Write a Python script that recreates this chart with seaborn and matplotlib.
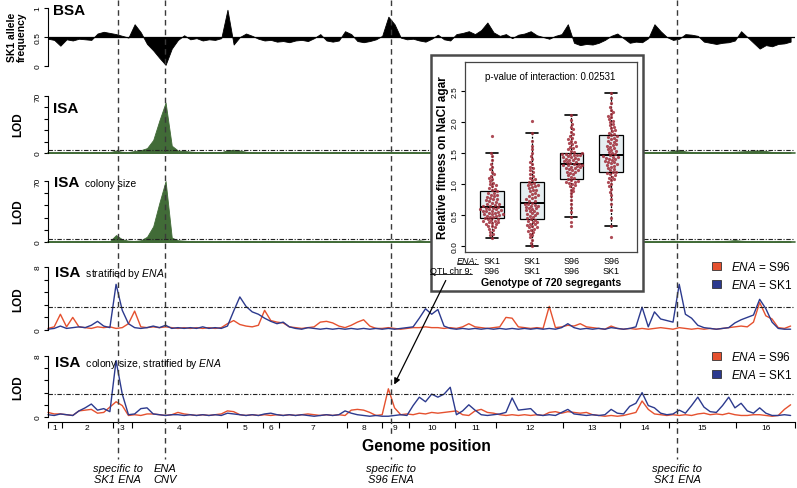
import numpy as np
import pandas as pd
import matplotlib
matplotlib.use("Agg")
import matplotlib.pyplot as plt
import seaborn as sns
from matplotlib.patches import Rectangle, FancyArrowPatch, Patch
from matplotlib.lines import Line2D
from matplotlib.transforms import blended_transform_factory as blend

# ---------------- data ----------------
chrom_names = [str(i) for i in range(1, 17)]
chrom_kb = [230, 813, 317, 1532, 577, 270, 1091, 563, 440, 746, 667, 1078, 924, 784, 1091, 948]
marker_mb = [1.13, 1.89, 5.54, 10.17]
marker_text = ["specific to\nSK1 ENA", "ENA\nCNV", "specific to\nS96 ENA", "specific to\nSK1 ENA"]

bsa_freq = [0.47,0.45,0.35,0.46,0.44,0.47,0.46,0.45,0.56,0.59,
            0.57,0.55,0.52,0.49,0.72,0.58,0.38,0.27,0.14,0.02,
            0.30,0.45,0.53,0.46,0.48,0.44,0.46,0.45,0.48,0.97,
            0.37,0.50,0.56,0.52,0.47,0.44,0.45,0.42,0.43,0.41,
            0.44,0.45,0.43,0.48,0.55,0.44,0.42,0.44,0.60,0.55,
            0.43,0.41,0.43,0.46,0.52,0.85,0.72,0.49,0.46,0.47,
            0.44,0.42,0.47,0.54,0.46,0.44,0.55,0.57,0.60,0.55,
            0.62,0.75,0.58,0.52,0.55,0.48,0.54,0.56,0.60,0.53,
            0.50,0.47,0.52,0.55,0.72,0.40,0.36,0.38,0.37,0.40,
            0.45,0.52,0.56,0.48,0.40,0.42,0.41,0.48,0.72,0.60,
            0.50,0.45,0.47,0.55,0.54,0.52,0.42,0.40,0.38,0.40,
            0.41,0.44,0.60,0.50,0.40,0.30,0.36,0.34,0.38,0.39,
            0.42]

isa_lod = [1.0,0.8,1.2,0.9,1.0,1.1,0.8,1.0,1.2,0.9,
           1.0,3.0,1.5,1.2,2.5,3.5,6.0,16.0,40.0,62.0,
           9.0,3.0,2.5,1.8,1.2,1.0,1.0,1.2,1.0,3.5,
           4.0,3.0,1.5,1.0,0.8,1.0,1.0,0.9,1.1,0.8,
           1.0,1.2,0.9,1.0,1.1,0.8,1.0,1.2,1.0,0.9,
           1.1,1.0,0.8,1.0,1.2,1.5,1.0,0.9,1.0,1.1,
           0.8,1.0,1.2,0.9,1.0,1.1,0.8,1.0,1.2,1.0,
           0.9,1.1,1.0,0.8,1.0,1.2,0.9,1.0,1.1,0.8,
           1.0,1.2,0.9,1.0,1.1,0.8,1.0,1.2,1.0,0.9,
           1.1,1.0,0.8,1.0,1.2,0.9,1.0,1.1,1.0,1.2,
           1.5,2.5,4.0,2.0,1.2,1.0,0.9,1.0,1.1,1.0,
           1.2,1.5,2.0,2.5,3.0,3.2,2.5,1.2,1.0,0.9,
           1.0]

isa_cs_lod = [0.9,1.0,0.8,1.1,1.0,0.9,1.2,1.0,0.8,1.0,
              1.1,8.0,3.0,1.5,1.2,2.0,6.0,18.0,45.0,70.0,
              5.0,2.0,1.5,1.0,0.9,1.1,1.0,0.8,1.0,1.2,
              1.0,0.9,1.1,1.0,0.8,1.0,1.2,0.9,1.0,1.1,
              0.8,1.0,1.2,1.0,0.9,1.1,1.0,0.8,1.0,1.2,
              0.9,1.0,1.1,0.8,1.0,1.2,1.0,0.9,1.1,1.0,
              2.0,1.2,0.9,1.0,1.1,0.8,1.0,1.2,1.0,0.9,
              1.1,1.0,0.8,1.0,1.2,0.9,1.0,1.1,0.8,1.0,
              1.2,1.0,0.9,1.1,1.0,0.8,1.0,1.2,0.9,1.0,
              1.1,0.8,1.0,1.2,1.0,0.9,1.1,1.0,0.8,1.0,
              1.2,1.5,1.2,1.0,0.9,1.1,1.0,0.8,1.0,1.2,
              1.5,2.2,1.5,1.0,0.9,1.1,1.0,0.8,1.0,1.2,
              1.0]

strat_s96 = [0.2,0.4,2.0,0.4,1.6,0.4,0.3,0.2,0.4,0.3,
             0.4,0.2,0.3,0.8,2.4,0.4,0.3,0.4,0.3,0.4,
             0.3,0.2,0.3,0.2,0.3,0.2,0.3,0.2,0.3,0.8,
             1.2,0.7,0.5,0.4,0.6,2.5,1.2,1.0,0.9,0.4,
             0.3,0.2,0.3,0.4,1.0,1.1,0.9,0.5,0.3,0.6,
             1.0,1.3,0.5,0.2,0.2,0.3,0.2,0.1,0.2,0.3,
             0.3,0.4,0.3,0.3,0.2,0.3,0.2,0.4,0.8,0.4,
             0.3,0.2,0.3,0.4,1.6,1.5,0.4,0.3,0.2,0.3,
             0.2,3.0,0.3,0.4,0.6,0.5,0.8,0.4,0.3,0.2,
             0.1,0.5,0.2,0.1,0.2,0.1,0.2,0.1,0.2,0.3,
             0.2,0.1,0.3,0.2,0.1,0.2,0.1,0.2,0.1,0.2,
             0.3,0.4,0.5,0.4,1.0,3.5,1.8,1.4,0.3,0.2,
             0.5]

strat_sk1 = [0.1,0.2,0.5,0.2,0.3,0.4,0.3,0.6,1.1,0.5,
             0.3,5.8,2.5,0.8,0.3,0.2,0.3,0.5,0.3,0.6,
             0.2,0.3,0.2,0.3,0.2,0.4,0.2,0.3,0.2,0.5,
             2.4,4.2,3.0,2.3,2.0,1.5,1.1,0.8,1.0,0.4,
             0.2,0.1,0.3,0.2,0.1,0.2,0.1,0.2,0.1,0.2,
             0.1,0.2,0.1,0.2,0.1,0.2,0.1,0.2,0.3,0.4,
             1.5,2.7,2.0,2.6,0.5,0.2,0.1,0.2,0.1,0.2,
             0.1,0.2,0.1,0.2,0.1,0.2,0.1,0.2,0.1,0.2,
             0.1,0.2,0.1,0.3,0.8,0.3,0.1,0.2,0.1,0.2,
             0.1,0.3,0.2,0.1,0.2,0.4,2.9,0.4,2.3,1.4,
             1.2,1.0,5.8,2.0,1.5,0.6,0.3,0.2,0.1,0.2,
             0.3,0.9,1.3,1.6,1.9,3.9,2.7,1.0,0.2,0.1,
             0.1]

cs_strat_s96 = [0.6,0.4,0.4,0.3,0.2,0.8,0.9,1.0,0.5,0.6,
                1.3,2.0,1.5,0.2,0.3,0.2,0.4,0.4,0.3,0.2,
                0.3,0.6,0.4,0.3,0.2,0.3,0.2,0.3,0.4,0.8,
                0.7,0.3,0.2,0.3,0.2,0.3,0.2,0.3,0.2,0.3,
                0.2,0.3,0.4,0.3,0.2,0.3,0.2,0.3,0.2,0.9,
                1.0,0.9,0.6,0.2,0.3,3.7,1.2,0.3,0.4,0.3,
                0.5,0.4,0.6,0.5,0.6,0.7,0.8,0.3,0.2,0.8,
                1.0,0.6,0.5,0.3,0.2,0.3,0.2,0.3,0.2,0.3,
                0.2,0.6,0.7,0.5,0.7,0.6,0.5,0.6,0.3,0.2,
                0.1,0.2,0.1,0.2,0.4,0.6,2.1,1.0,0.4,0.3,
                0.2,0.3,0.2,0.3,0.2,0.4,0.5,0.3,0.4,0.3,
                0.5,0.3,0.2,0.2,0.3,0.3,0.2,0.1,0.2,1.0,
                1.6]

cs_strat_sk1 = [0.3,0.2,0.4,0.3,0.2,0.8,1.2,1.7,0.9,1.1,
                0.7,7.4,3.0,0.3,0.4,1.1,1.2,0.4,0.3,0.2,
                0.3,0.3,0.2,0.3,0.2,0.3,0.2,0.3,0.2,0.5,
                0.4,0.3,0.2,0.3,0.2,0.4,0.5,0.3,0.2,0.3,
                0.2,0.3,0.2,0.1,0.2,0.3,0.2,0.3,0.8,0.5,
                0.3,0.2,0.1,0.2,0.1,0.1,0.2,0.3,0.2,1.5,
                2.6,2.0,3.0,2.6,3.0,3.9,0.3,0.8,1.6,0.9,
                0.3,0.2,0.3,0.4,0.6,2.5,0.9,1.0,1.1,0.3,
                0.2,0.3,0.2,0.6,1.0,0.4,0.3,0.2,0.3,0.2,
                0.3,1.0,0.5,0.4,1.4,1.8,3.2,1.5,1.2,0.5,
                0.3,0.4,0.9,0.5,1.5,2.6,1.3,0.7,0.6,1.5,
                2.6,1.2,1.8,0.8,0.5,1.2,0.5,0.2,0.2,0.3,
                0.2]

ena_geno = ["SK1", "SK1", "S96", "S96"]
qtl_geno = ["S96", "SK1", "S96", "SK1"]
fit_g1 = [0.13,0.17,0.2,0.23,0.26,0.28,0.3,0.32,0.33,0.35,0.36,0.37,0.38,0.39,0.4,0.41,0.42,0.43,0.44,0.45,
          0.46,0.47,0.48,0.49,0.5,0.51,0.52,0.52,0.53,0.54,0.55,0.56,0.57,0.57,0.58,0.59,0.6,0.6,0.61,0.62,
          0.63,0.64,0.65,0.66,0.67,0.68,0.7,0.71,0.72,0.74,0.75,0.76,0.78,0.79,0.8,0.82,0.83,0.85,0.86,0.88,
          0.9,0.92,0.94,0.96,0.98,1.0,1.02,1.05,1.08,1.1,1.13,1.16,1.2,1.24,1.28,1.33,1.38,1.45,1.5,1.77]
fit_g2 = [0.0,0.05,0.1,0.14,0.17,0.2,0.22,0.24,0.26,0.28,0.3,0.31,0.32,0.34,0.35,0.36,0.38,0.39,0.4,0.42,
          0.43,0.45,0.46,0.48,0.5,0.51,0.53,0.54,0.56,0.57,0.58,0.6,0.61,0.62,0.63,0.64,0.65,0.66,0.67,0.68,
          0.7,0.72,0.73,0.75,0.77,0.79,0.8,0.82,0.84,0.86,0.88,0.9,0.91,0.93,0.95,0.96,0.98,0.99,1.0,1.02,
          1.04,1.06,1.08,1.1,1.13,1.16,1.19,1.22,1.25,1.28,1.32,1.36,1.4,1.45,1.5,1.56,1.62,1.7,1.83,2.02]
fit_g3 = [0.32,0.38,0.47,0.55,0.62,0.68,0.74,0.8,0.85,0.88,0.91,0.94,0.96,0.98,1.0,1.02,1.03,1.04,1.05,1.07,
          1.08,1.1,1.12,1.14,1.16,1.18,1.19,1.2,1.22,1.23,1.24,1.25,1.26,1.27,1.28,1.29,1.3,1.3,1.31,1.32,
          1.33,1.34,1.35,1.36,1.37,1.38,1.39,1.4,1.41,1.42,1.43,1.44,1.45,1.46,1.46,1.47,1.48,1.49,1.49,1.5,
          1.52,1.54,1.56,1.58,1.6,1.62,1.64,1.66,1.68,1.7,1.72,1.75,1.78,1.8,1.84,1.88,1.92,1.97,2.04,2.12]
fit_g4 = [0.15,0.32,0.45,0.58,0.68,0.76,0.82,0.87,0.92,0.96,1.0,1.03,1.06,1.08,1.1,1.12,1.14,1.16,1.17,1.19,
          1.2,1.22,1.24,1.26,1.28,1.29,1.31,1.32,1.34,1.35,1.36,1.37,1.39,1.4,1.41,1.42,1.43,1.44,1.45,1.46,
          1.48,1.5,1.51,1.53,1.55,1.56,1.58,1.6,1.61,1.63,1.64,1.66,1.68,1.7,1.71,1.73,1.75,1.76,1.78,1.79,
          1.81,1.83,1.85,1.87,1.9,1.92,1.95,1.97,2.0,2.02,2.05,2.08,2.1,2.13,2.16,2.2,2.25,2.3,2.38,2.47]

# ---------------- style ----------------
sns.set_style("white")
plt.rcParams["font.family"] = ["Liberation Sans", "DejaVu Sans"]
plt.rcParams["mathtext.fontset"] = "custom"
plt.rcParams["mathtext.rm"] = "Liberation Sans"
plt.rcParams["mathtext.it"] = "Liberation Sans:italic"
plt.rcParams["mathtext.bf"] = "Liberation Sans:bold"
for k in ["text.color", "axes.labelcolor", "xtick.color", "ytick.color", "axes.edgecolor"]:
    plt.rcParams[k] = "black"

RED = "#e5512f"
BLUE = "#2c3a8e"
GREEN = "#416b37"

W, H = 797, 489
fig = plt.figure(figsize=(W / 100, H / 100), dpi=100)


def fx(p):
    return p / W


def fy(p):
    return 1 - p / H


pos = np.arange(len(bsa_freq)) * 0.1
genome_mb = sum(chrom_kb) / 1000.0
XL, XR = 48, 795


def track(top, bottom):
    ax = fig.add_axes([fx(XL), fy(bottom), fx(XR) - fx(XL), (bottom - top) / H])
    ax.set_xlim(0, genome_mb)
    for s in ["top", "right", "bottom"]:
        ax.spines[s].set_visible(False)
    ax.spines["left"].set_linewidth(0.8)
    ax.tick_params(axis="x", bottom=False, labelbottom=False)
    ax.tick_params(axis="y", left=True, length=3, width=0.8, pad=1.5,
                   labelsize=6, labelrotation=90)
    for lab in ax.get_yticklabels():
        lab.set_va("center")
    ax.patch.set_alpha(0)
    return ax


def dashdot(ax, y):
    ax.axhline(y, color="#222222", lw=0.8, ls=(0, (4, 1.5, 1, 1.5)), zorder=3)


# BSA
ax1 = track(9, 67)
ax1.set_ylim(0, 1)
ax1.fill_between(pos, 0.5, bsa_freq, color="black", lw=0.6)
ax1.axhline(0.5, color="black", lw=0.9)
ax1.set_yticks([0, 0.5, 1])
ax1.set_yticklabels(["0", "0.5", "1"], va="center")

# ISA
ax2 = track(97, 154)
ax2.set_ylim(0, 70)
ax2.fill_between(pos, 0, isa_lod, color=GREEN, lw=0.6)
ax2.axhline(0, color=GREEN, lw=1.2, clip_on=False)
dashdot(ax2, 3.5)
ax2.set_yticks(np.arange(0, 71, 14))
ax2.set_yticklabels(["0", "", "", "", "", "70"], va="center")

# ISA colony size
ax3 = track(182, 243)
ax3.set_ylim(0, 70)
ax3.fill_between(pos, 0, isa_cs_lod, color=GREEN, lw=0.6)
ax3.axhline(0, color=GREEN, lw=1.2, clip_on=False)
dashdot(ax3, 3.5)
ax3.set_yticks(np.arange(0, 71, 14))
ax3.set_yticklabels(["0", "", "", "", "", "70"], va="center")

# stratified panels
ax4 = track(268, 331)
ax5 = track(357, 418)
for ax, red, blue, thr in [(ax4, strat_s96, strat_sk1, 2.9), (ax5, cs_strat_s96, cs_strat_sk1, 3.0)]:
    ax.set_ylim(0, 8)
    sns.lineplot(x=pos, y=red, color=RED, lw=1.0, ax=ax, legend=False, clip_on=False)
    sns.lineplot(x=pos, y=blue, color=BLUE, lw=1.0, ax=ax, legend=False, clip_on=False)
    dashdot(ax, thr)
    ax.set_yticks([0, 1.6, 3.2, 4.8, 6.4, 8])
    ax.set_yticklabels(["0", "", "", "", "", "8"], va="center")
    ax.set_xlim(0, genome_mb)
    ax.set_xlabel("")
    ax.set_ylabel("")
    ax.legend(handles=[Patch(facecolor=RED, edgecolor="#333333", lw=0.6),
                       Patch(facecolor=BLUE, edgecolor="#333333", lw=0.6)],
              labels=[r"$\mathit{ENA}$ = S96", r"$\mathit{ENA}$ = SK1"],
              loc="upper left",
              bbox_to_anchor=(fx(712), fy(261 if ax is ax4 else 351)),
              bbox_transform=fig.transFigure, frameon=False, fontsize=8.5,
              handlelength=0.75, handleheight=0.75, handletextpad=0.9,
              labelspacing=0.42, borderpad=0, borderaxespad=0)

# chromosome axis
bounds = np.concatenate([[0], np.cumsum(chrom_kb)]) / 1000.0
centers = (bounds[:-1] + bounds[1:]) / 2
ax5.spines["bottom"].set_visible(True)
ax5.spines["bottom"].set_linewidth(0.8)
ax5.spines["bottom"].set_position(("outward", 3.5))
ax5.set_xticks(bounds)
ax5.set_xticklabels([""] * len(bounds))
ax5.set_xticks(centers, minor=True)
ax5.set_xticklabels(chrom_names, minor=True)
ax5.tick_params(axis="x", which="major", bottom=True, length=4, width=0.8, direction="out")
ax5.tick_params(axis="x", which="minor", bottom=True, labelbottom=True, length=0, pad=1.5, labelsize=6)
ax5.tick_params(axis="x", labelbottom=True)

# panel titles
titles = [("BSA", "", 53, 15), ("ISA", "", 53, 113), ("ISA", " colony size", 54, 187),
          ("ISA", r" stratified by $\mathit{ENA}$", 55, 277),
          ("ISA", r" colony size, stratified by $\mathit{ENA}$", 55, 367)]
title_objs = []
for main, sub, x, y in titles:
    t = fig.text(fx(x), fy(y), main, fontsize=11, fontweight="bold", va="baseline", ha="left", zorder=6)
    title_objs.append((t, sub, y))

fig.text(fx(17), fy(37), "SK1 allele\nfrequency", rotation=90, fontsize=7.5, fontweight="bold",
         ha="center", va="center", linespacing=1.05)
for yc in [125, 212, 300, 388]:
    fig.text(fx(18), fy(yc), "LOD", rotation=90, fontsize=8.5, fontweight="bold", ha="center", va="center")

# vertical markers
tr = blend(ax5.transData, fig.transFigure)
for m, txt in zip(marker_mb, marker_text):
    fig.add_artist(Line2D([m, m], [fy(1), fy(460)], transform=tr, color="#3a3a3a", lw=1.0,
                          ls=(0, (4, 3)), zorder=4))
    fig.text(m, fy(474.5), txt, transform=tr, ha="center", va="center", fontsize=8,
             style="italic", linespacing=1.2, zorder=6)

fig.text(fx(426), fy(447), "Genome position", ha="center", va="center", fontsize=11.3,
         fontweight="bold", zorder=6,
         bbox=dict(facecolor="white", edgecolor="none", pad=0.3))

# ---------------- inset ----------------
fig.add_artist(Rectangle((fx(431), fy(292)), fx(643) - fx(431), (292 - 56) / H,
                         transform=fig.transFigure, facecolor="white", edgecolor="#4a4a4a",
                         lw=1.8, zorder=5))
axi = fig.add_axes([fx(465), fy(253), fx(637) - fx(465), (253 - 63) / H])
axi.set_zorder(6)
order = ["a", "b", "c", "d"]
df = pd.DataFrame({
    "geno": ["a"] * len(fit_g1) + ["b"] * len(fit_g2) + ["c"] * len(fit_g3) + ["d"] * len(fit_g4),
    "fit": fit_g1 + fit_g2 + fit_g3 + fit_g4,
})
sns.boxplot(data=df, x="geno", y="fit", order=order, width=0.6, color="#e3eef2",
            linecolor="black", linewidth=0.9, showfliers=False, whis=1.5,
            whiskerprops=dict(linestyle=(0, (1.5, 1.2))), medianprops=dict(linewidth=1.4),
            capprops=dict(linewidth=1.2), ax=axi)
sns.swarmplot(data=df, x="geno", y="fit", order=order, color="#a02d39", size=2.3,
              alpha=0.85, linewidth=0, ax=axi, zorder=4)
axi.set_xlim(-0.68, 3.65)
axi.set_ylim(-0.097, 2.968)
for s in axi.spines.values():
    s.set_visible(True)
    s.set_color("#444444")
    s.set_linewidth(0.9)
axi.tick_params(axis="x", bottom=False, labelbottom=False)
axi.set_xlabel("")
axi.set_yticks([0, 0.5, 1, 1.5, 2, 2.5])
axi.set_yticklabels(["0.0", "0.5", "1.0", "1.5", "2.0", "2.5"], va="center")
axi.tick_params(axis="y", left=True, length=3, width=0.8, pad=1.5, labelsize=6, labelrotation=90)
axi.set_ylabel("Relative fitness on NaCl agar", fontsize=8.5, fontweight="bold", labelpad=2)

fig.text(fx(550), fy(77), "p-value of interaction: 0.02531", ha="center", va="center",
         fontsize=7, zorder=8)
tri = blend(axi.transData, fig.transFigure)
for i, (e, q) in enumerate(zip(ena_geno, qtl_geno)):
    fig.text(i, fy(261), e, transform=tri, ha="center", va="center", fontsize=6.5, zorder=8)
    fig.text(i, fy(271.5), q, transform=tri, ha="center", va="center", fontsize=6.5, zorder=8)
t_ena = fig.text(fx(478), fy(261), "ENA:", style="italic", ha="right", va="center", fontsize=6.5, zorder=8)
t_qtl = fig.text(fx(472), fy(271.5), "QTL chr 9:", ha="right", va="center", fontsize=6.5, zorder=8)
fig.text(fx(551), fy(283), "Genotype of 720 segregants", ha="center", va="center", fontsize=7.6,
         fontweight="bold", zorder=8)

fig.add_artist(FancyArrowPatch((fx(447), fy(279)), (fx(393), fy(388)), transform=fig.transFigure,
                               arrowstyle="-|>", mutation_scale=9, lw=0.9, color="black", zorder=8))

# ---------------- layout-dependent pieces ----------------
fig.canvas.draw()
rend = fig.canvas.get_renderer()
for t in [t_ena, t_qtl]:
    bb = t.get_window_extent(rend)
    fig.add_artist(Line2D([bb.x0 / W, bb.x1 / W], [(bb.y0 + 1.0) / H] * 2, transform=fig.transFigure,
                          color="black", lw=0.6, zorder=8))
for t, sub, y in title_objs:
    if sub:
        bb = t.get_window_extent(rend)
        fig.text((bb.x1 + 3) / W, fy(y), sub, fontsize=7.5, va="baseline", ha="left", zorder=6)

fig.savefig("out.png", dpi=100)
